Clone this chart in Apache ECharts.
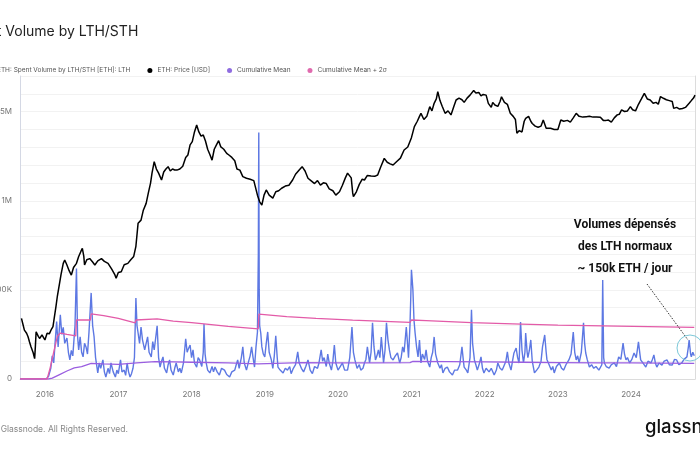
<!DOCTYPE html>
<html>
<head>
<meta charset="utf-8">
<script src="https://cdn.jsdelivr.net/npm/echarts@6/dist/echarts.min.js"></script>
<style>html,body{margin:0;padding:0;background:#fff;}#c{width:700px;height:450px;}</style>
</head>
<body>
<div id="c"></div>
<script>
// Dates given as decimal years; volumes in thousands of ETH; price in USD
const volumePoints = [
[2015.66,0],[2015.95,0],[2016.02,2],[2016.05,15],[2016.08,60],[2016.10,130],[2016.12,90],[2016.14,210],[2016.16,322],[2016.18,180],
[2016.21,360],[2016.23,250],[2016.25,290],[2016.27,200],[2016.30,230],[2016.32,150],[2016.34,107],[2016.36,160],[2016.38,130],[2016.41,300],
[2016.43,620],[2016.445,240],[2016.46,163],[2016.48,236],[2016.50,150],[2016.52,124],[2016.54,200],[2016.56,180],[2016.58,140],[2016.60,260],
[2016.63,483],[2016.65,300],[2016.67,236],[2016.69,120],[2016.72,34],[2016.74,90],[2016.76,60],[2016.79,107],[2016.81,40],[2016.83,11],
[2016.86,60],[2016.88,30],[2016.90,90],[2016.93,40],[2016.96,11],[2016.98,50],[2017.00,30],[2017.03,107],[2017.05,40],[2017.08,50],
[2017.10,20],[2017.12,90],[2017.14,40],[2017.16,11],[2017.18,30],[2017.20,60],[2017.22,120],[2017.24,455],[2017.255,300],[2017.27,258],
[2017.29,200],[2017.31,292],[2017.33,220],[2017.36,163],[2017.38,200],[2017.40,236],[2017.42,150],[2017.45,124],[2017.47,210],[2017.49,163],
[2017.51,230],[2017.53,298],[2017.55,120],[2017.57,67],[2017.59,100],[2017.61,124],[2017.63,60],[2017.66,34],[2017.68,80],[2017.70,107],
[2017.72,50],[2017.75,22],[2017.77,60],[2017.79,90],[2017.82,40],[2017.84,60],[2017.86,34],[2017.89,90],[2017.92,225],[2017.94,150],
[2017.95,163],[2017.98,191],[2018.00,120],[2018.02,163],[2018.04,90],[2018.07,67],[2018.09,120],[2018.11,107],[2018.14,70],[2018.16,150],
[2018.17,309],[2018.185,140],[2018.20,90],[2018.22,50],[2018.25,34],[2018.28,70],[2018.30,40],[2018.32,67],[2018.35,40],[2018.38,22],
[2018.41,60],[2018.45,50],[2018.48,25],[2018.52,11],[2018.55,40],[2018.59,50],[2018.61,80],[2018.63,107],[2018.65,60],[2018.68,120],
[2018.70,180],[2018.72,90],[2018.75,50],[2018.78,100],[2018.80,130],[2018.82,180],[2018.84,120],[2018.86,67],[2018.88,180],[2018.90,264],
[2018.912,700],[2018.918,1383],[2018.924,500],[2018.93,300],[2018.945,258],[2018.96,180],[2018.98,140],[2019.00,124],[2019.02,200],[2019.04,264],
[2019.06,150],[2019.09,107],[2019.11,60],[2019.13,130],[2019.15,242],[2019.17,120],[2019.18,67],[2019.21,50],[2019.25,34],[2019.28,60],
[2019.31,50],[2019.34,70],[2019.36,30],[2019.39,60],[2019.42,80],[2019.45,152],[2019.47,90],[2019.50,60],[2019.53,40],[2019.56,70],
[2019.59,107],[2019.62,50],[2019.65,30],[2019.68,70],[2019.72,60],[2019.74,90],[2019.77,163],[2019.79,100],[2019.81,120],[2019.84,70],
[2019.86,140],[2019.88,90],[2019.91,50],[2019.93,100],[2019.95,191],[2019.97,90],[2020.00,50],[2020.03,70],[2020.06,90],[2020.09,50],
[2020.13,50],[2020.16,120],[2020.19,292],[2020.21,150],[2020.23,107],[2020.26,60],[2020.29,80],[2020.31,50],[2020.34,60],[2020.36,90],
[2020.38,110],[2020.40,180],[2020.42,120],[2020.43,90],[2020.45,150],[2020.47,315],[2020.49,180],[2020.51,107],[2020.53,130],[2020.55,163],
[2020.57,120],[2020.59,236],[2020.61,140],[2020.62,90],[2020.64,160],[2020.66,315],[2020.68,220],[2020.70,163],[2020.72,120],[2020.75,107],
[2020.78,130],[2020.81,146],[2020.84,90],[2020.86,120],[2020.88,180],[2020.90,150],[2020.93,292],[2020.95,180],[2020.96,120],[2020.98,300],
[2020.99,444],[2021.00,613],[2021.01,560],[2021.02,500],[2021.035,330],[2021.05,258],[2021.07,180],[2021.09,124],[2021.11,219],[2021.13,90],
[2021.15,140],[2021.18,110],[2021.20,163],[2021.22,100],[2021.25,67],[2021.27,120],[2021.29,150],[2021.31,236],[2021.33,140],[2021.36,90],
[2021.39,60],[2021.41,80],[2021.43,34],[2021.46,60],[2021.49,67],[2021.52,40],[2021.56,22],[2021.59,50],[2021.63,50],[2021.66,80],
[2021.69,180],[2021.71,100],[2021.72,67],[2021.75,50],[2021.77,34],[2021.80,120],[2021.82,388],[2021.835,200],[2021.86,107],[2021.88,80],
[2021.90,50],[2021.93,90],[2021.95,124],[2021.97,60],[2021.99,34],[2022.02,60],[2022.06,40],[2022.09,60],[2022.13,22],[2022.16,50],
[2022.18,90],[2022.21,60],[2022.24,50],[2022.27,80],[2022.29,100],[2022.31,152],[2022.33,90],[2022.36,50],[2022.38,100],[2022.40,146],
[2022.43,174],[2022.45,120],[2022.47,90],[2022.49,320],[2022.51,160],[2022.53,90],[2022.55,150],[2022.56,258],[2022.58,150],[2022.59,120],
[2022.61,160],[2022.63,219],[2022.65,100],[2022.68,34],[2022.71,50],[2022.74,67],[2022.77,100],[2022.79,180],[2022.82,247],[2022.84,150],
[2022.85,110],[2022.88,80],[2022.91,50],[2022.93,70],[2022.95,34],[2022.98,70],[2023.02,90],[2023.05,60],[2023.08,50],[2023.11,80],
[2023.15,107],[2023.18,140],[2023.21,264],[2023.23,150],[2023.25,107],[2023.27,130],[2023.29,90],[2023.32,150],[2023.35,315],[2023.365,200],
[2023.38,146],[2023.40,110],[2023.43,67],[2023.46,80],[2023.49,60],[2023.52,70],[2023.56,50],[2023.58,60],[2023.60,80],[2023.612,556],
[2023.625,120],[2023.635,90],[2023.66,70],[2023.70,61],[2023.73,80],[2023.77,90],[2023.80,70],[2023.83,124],[2023.86,110],[2023.89,202],
[2023.91,140],[2023.93,107],[2023.95,120],[2023.98,90],[2024.01,110],[2024.04,146],[2024.07,120],[2024.10,208],[2024.12,140],[2024.13,107],
[2024.16,90],[2024.20,67],[2024.23,100],[2024.27,90],[2024.29,110],[2024.31,135],[2024.33,90],[2024.35,67],[2024.38,90],[2024.42,78],
[2024.45,100],[2024.49,107],[2024.52,80],[2024.56,78],[2024.59,110],[2024.62,107],[2024.65,80],[2024.69,90],[2024.72,110],[2024.76,124],
[2024.78,180],[2024.79,219],[2024.81,140],[2024.82,124],[2024.84,150],[2024.86,130]
];

const pricePoints = [
[2015.68,1.6],[2015.70,1.3],[2015.72,1.06],[2015.75,0.95],[2015.77,0.84],[2015.79,0.7],[2015.81,0.59],[2015.84,0.48],[2015.86,0.39],[2015.87,0.6],
[2015.88,1.0],[2015.91,0.85],[2015.93,0.79],[2015.96,0.9],[2016.00,0.75],[2016.03,0.95],[2016.06,0.93],[2016.09,1.1],[2016.11,1.2],[2016.13,1.7],
[2016.15,2.4],[2016.17,3.5],[2016.20,5.5],[2016.22,7.5],[2016.25,11],[2016.27,12.4],[2016.30,10.4],[2016.33,8.5],[2016.36,7.3],[2016.39,9.5],
[2016.43,11],[2016.46,14],[2016.49,16.7],[2016.51,18.6],[2016.53,14],[2016.54,10.4],[2016.57,12.5],[2016.61,13],[2016.65,11.5],[2016.68,10.4],
[2016.72,12],[2016.77,13],[2016.81,11.8],[2016.86,11],[2016.91,9],[2016.95,7.5],[2016.97,6.5],[2017.00,8],[2017.04,8.2],[2017.08,10.5],
[2017.13,11],[2017.17,12.5],[2017.21,14],[2017.24,20],[2017.27,45],[2017.31,50],[2017.34,70],[2017.38,90],[2017.41,130],[2017.44,183],
[2017.46,260],[2017.49,388],[2017.52,300],[2017.55,260],[2017.59,204],[2017.62,270],[2017.65,300],[2017.68,326],[2017.71,280],[2017.74,300],
[2017.77,290],[2017.80,289],[2017.84,300],[2017.88,330],[2017.92,450],[2017.95,490],[2017.98,700],[2018.01,782],[2018.04,1100],[2018.07,1400],
[2018.10,1100],[2018.13,950],[2018.16,988],[2018.19,800],[2018.22,600],[2018.25,500],[2018.28,410],[2018.31,600],[2018.34,700],[2018.37,810],
[2018.40,650],[2018.44,600],[2018.48,520],[2018.51,490],[2018.55,450],[2018.59,400],[2018.62,300],[2018.66,289],[2018.70,230],[2018.75,217],
[2018.80,210],[2018.85,200],[2018.87,192],[2018.90,120],[2018.93,95],[2018.96,85],[2018.99,120],[2019.02,144],[2019.06,120],[2019.11,108],
[2019.15,135],[2019.19,140],[2019.23,153],[2019.28,165],[2019.33,170],[2019.38,204],[2019.42,250],[2019.47,290],[2019.51,326],[2019.55,280],
[2019.59,217],[2019.63,200],[2019.68,180],[2019.72,200],[2019.76,171],[2019.80,185],[2019.84,180],[2019.88,150],[2019.93,140],[2019.97,120],
[2020.02,135],[2020.06,170],[2020.10,220],[2020.13,260],[2020.15,273],[2020.18,220],[2020.20,130],[2020.21,114],[2020.25,135],[2020.29,175],
[2020.33,210],[2020.36,204],[2020.40,240],[2020.45,235],[2020.50,232],[2020.54,243],[2020.58,320],[2020.63,436],[2020.67,380],[2020.71,360],
[2020.75,345],[2020.80,390],[2020.85,440],[2020.90,584],[2020.95,650],[2021.00,900],[2021.04,1324],[2021.08,1600],[2021.11,1900],[2021.13,2113],
[2021.17,1700],[2021.21,1900],[2021.25,2667],[2021.28,2300],[2021.31,3000],[2021.34,3500],[2021.36,4500],[2021.39,3300],[2021.42,2700],[2021.46,2113],
[2021.50,2300],[2021.54,2000],[2021.58,2700],[2021.61,3370],[2021.65,3600],[2021.69,3400],[2021.72,3100],[2021.76,3600],[2021.80,4000],[2021.85,4700],
[2021.88,4300],[2021.92,4400],[2021.95,3900],[2021.98,4100],[2022.02,4000],[2022.05,3000],[2022.09,2600],[2022.11,3100],[2022.14,2830],[2022.18,2700],
[2022.21,3200],[2022.23,3780],[2022.27,3100],[2022.31,2900],[2022.35,2113],[2022.39,1900],[2022.42,1700],[2022.44,1050],[2022.47,1150],[2022.51,1100],
[2022.54,1600],[2022.56,1775],[2022.60,1900],[2022.63,1600],[2022.65,1480],[2022.69,1350],[2022.73,1300],[2022.77,1350],[2022.80,1670],[2022.84,1250],
[2022.86,1180],[2022.90,1250],[2022.95,1200],[2023.00,1200],[2023.04,1670],[2023.08,1600],[2023.13,1650],[2023.17,1550],[2023.21,1800],[2023.25,2113],
[2023.29,1900],[2023.34,1850],[2023.39,1880],[2023.43,1900],[2023.48,1850],[2023.53,1850],[2023.58,1840],[2023.62,1650],[2023.66,1650],[2023.69,1670],
[2023.73,1550],[2023.77,1800],[2023.81,2000],[2023.84,2050],[2023.87,2380],[2023.91,2250],[2023.95,2300],[2023.99,2667],[2024.02,2400],[2024.06,2300],
[2024.10,2900],[2024.14,3500],[2024.18,4260],[2024.22,3500],[2024.26,3370],[2024.30,3000],[2024.34,3100],[2024.37,2900],[2024.40,3800],[2024.44,3580],
[2024.48,3400],[2024.52,3300],[2024.56,3200],[2024.58,2510],[2024.62,2600],[2024.66,2450],[2024.70,2500],[2024.74,2600],[2024.79,3000],[2024.82,3300],
[2024.85,3600],[2024.87,4000]
];

const cumulativeMeanPoints = [
[2015.66,0],[2016.05,0],[2016.10,5],[2016.20,25],[2016.30,45],[2016.40,62],[2016.50,70],[2016.63,88],[2016.80,85],[2017.00,82],
[2017.25,90],[2017.50,97],[2017.75,96],[2018.00,94],[2018.50,90],[2018.91,85],[2018.93,95],[2019.50,92],[2020.00,90],[2020.50,90],
[2020.98,92],[2021.02,99],[2021.50,98],[2022.00,96],[2022.50,94],[2023.00,92],[2023.60,90],[2023.62,92],[2024.00,90],[2024.86,88]
];

const meanPlus2SigmaPoints = [
[2015.66,0],[2016.03,0],[2016.07,60],[2016.12,150],[2016.17,240],[2016.21,258],[2016.30,250],[2016.42,242],[2016.43,331],[2016.62,331],
[2016.63,365],[2016.80,355],[2017.00,340],[2017.23,315],[2017.24,331],[2017.53,337],[2017.75,325],[2018.00,316],[2018.17,309],[2018.50,295],
[2018.91,281],[2018.92,364],[2019.30,350],[2019.70,340],[2020.20,330],[2020.98,318],[2021.00,331],[2021.20,328],[2021.82,316],[2022.50,308],
[2023.00,302],[2023.61,298],[2023.62,300],[2024.86,290]
];

const seriesNames = ['ETH: Spent Volume by LTH/STH [ETH]: LTH','ETH: Price [USD]','Cumulative Mean','Cumulative Mean + 2σ'];
const yTickValuesK = [0,500,1000,1500];

function yt(y){
  const yr = Math.floor(y);
  const s = Date.UTC(yr,0,1), e = Date.UTC(yr+1,0,1);
  return s + (y - yr) * (e - s);
}
function toSeries(pts){ return pts.map(p => [yt(p[0]), p[1]]); }

const chart = echarts.init(document.getElementById('c'), null, {renderer:'canvas'});
const FONT = 'Inter, "Noto Sans", sans-serif';
chart.setOption({
  animation:false,
  backgroundColor:'#fff',
  textStyle:{fontFamily:FONT},
  title:{
    text:'ETH: Spent Volume by LTH/STH',
    left:-78, top:20,
    textStyle:{fontSize:14, fontWeight:'normal', color:'#222', fontFamily:FONT}
  },
  legend:{
    data:seriesNames,
    left:-18, top:62,
    icon:'circle', itemWidth:5, itemHeight:5, itemGap:17,
    textStyle:{fontSize:6.5, color:'#555', fontFamily:FONT}
  },
  grid:{left:20, right:5, top:76, bottom:71, containLabel:false, outerBoundsMode:'none'},
  xAxis:{
    type:'time',
    min:yt(2015.66), max:yt(2024.87),
    minInterval:365*86400000, maxInterval:366*86400000,
    axisLine:{show:true, lineStyle:{color:'#dcdcdc'}},
    axisTick:{show:false},
    splitLine:{show:false},
    axisLabel:{formatter:'{yyyy}', color:'#777', fontSize:8, margin:12, fontFamily:FONT}
  },
  yAxis:[{
    type:'value', min:0, max:1700, interval:100, position:'left',
    axisLine:{show:true, lineStyle:{color:'#d4d8e4'}},
    axisTick:{show:false},
    splitLine:{show:true, lineStyle:{color:'#f2f2f2', width:1}},
    axisLabel:{
      color:'#777', fontSize:8, margin:8, fontFamily:FONT,
      formatter:function(v){
        if (yTickValuesK.indexOf(v) < 0) return '';
        if (v === 0) return '0';
        return v >= 1000 ? (v/1000) + 'M' : v + 'K';
      }
    }
  },{
    type:'log', min:0.191, max:7816, position:'right', logBase:10,
    axisLine:{show:true, lineStyle:{color:'#dcdcdc'}},
    axisTick:{show:false}, axisLabel:{show:false}, splitLine:{show:false}
  }],
  series:[
    {name:seriesNames[0], type:'line', yAxisIndex:0, data:toSeries(volumePoints),
     showSymbol:false, symbol:'circle', lineStyle:{width:1.4, color:'#5d78e3'}, itemStyle:{color:'#5d78e3'}, z:2},
    {name:seriesNames[1], type:'line', yAxisIndex:1, data:toSeries(pricePoints),
     showSymbol:false, symbol:'circle', lineStyle:{width:1.5, color:'#000'}, itemStyle:{color:'#000'}, z:4},
    {name:seriesNames[2], type:'line', yAxisIndex:0, data:toSeries(cumulativeMeanPoints),
     showSymbol:false, symbol:'circle', lineStyle:{width:1.3, color:'#9a5ee0'}, itemStyle:{color:'#8f6ce0'}, z:3},
    {name:seriesNames[3], type:'line', yAxisIndex:0, data:toSeries(meanPlus2SigmaPoints),
     showSymbol:false, symbol:'circle', lineStyle:{width:1.3, color:'#e35ba8'}, itemStyle:{color:'#e06aae'}, z:3}
  ],
  graphic:[
    {type:'text', left:-33, top:425, style:{text:'© 2024 Glassnode. All Rights Reserved.', fill:'#888', font:'8.5px '+FONT}},
    {type:'text', left:645, top:418, style:{text:'glassnode', fill:'#111', font:'500 18.5px '+FONT}},
    {type:'text', x:625, y:214, style:{text:'Volumes dépensés\ndes LTH normaux\n~ 150k ETH / jour', fill:'#111', font:'bold 12px Roboto', textAlign:'center', lineHeight:22}, z:10},
    {type:'line', shape:{x1:647, y1:284, x2:688, y2:340}, style:{stroke:'#333', lineWidth:1, lineDash:[1.5,1.5]}, z:10},
    {type:'circle', shape:{cx:690, cy:348, r:13}, style:{stroke:'#7cc8d8', fill:null, lineWidth:1}, z:10}
  ]
});
</script>
</body>
</html>
